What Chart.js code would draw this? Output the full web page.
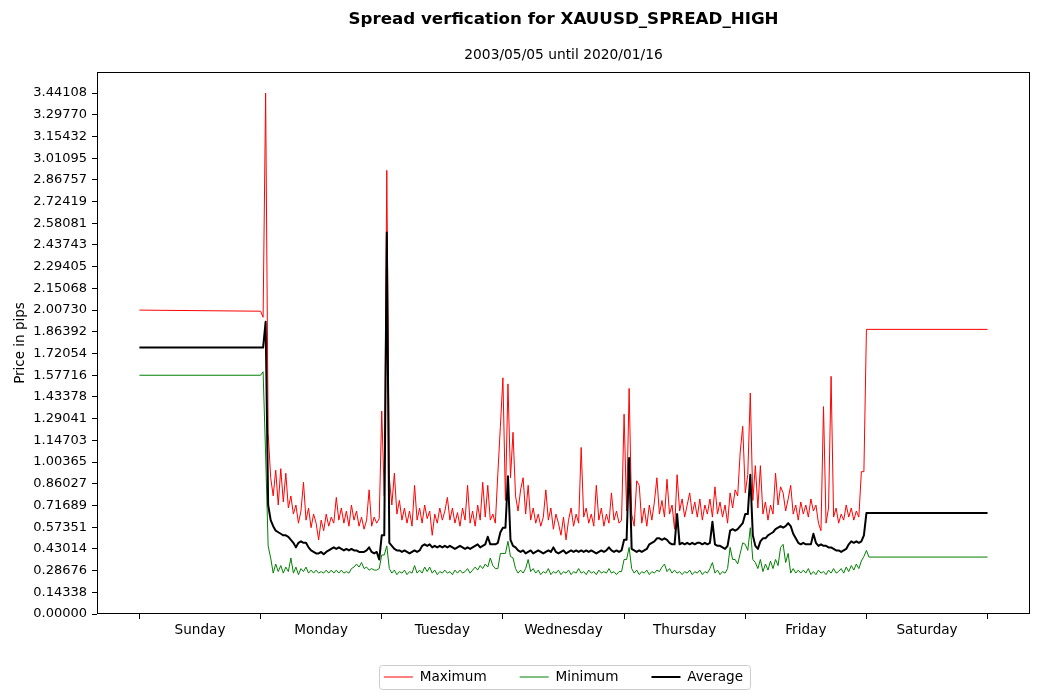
<!DOCTYPE html>
<html>
<head>
<meta charset="utf-8">
<script src="https://cdn.jsdelivr.net/npm/chart.js@4.4.1/dist/chart.umd.min.js"></script>
<style>
  html, body { margin: 0; padding: 0; background: #fff; }
  canvas { display: block; }
</style>
</head>
<body>
<canvas id="spreadChart" width="1039" height="700"></canvas>
<script>
const dayNames = ['Sunday', 'Monday', 'Tuesday', 'Wednesday', 'Thursday', 'Friday', 'Saturday']

const yTickLabels = [
    '0.00000', '0.14338', '0.28676', '0.43014', '0.57351', '0.71689', '0.86027', '1.00365',
    '1.14703', '1.29041', '1.43378', '1.57716', '1.72054', '1.86392', '2.00730', '2.15068',
    '2.29405', '2.43743', '2.58081', '2.72419', '2.86757', '3.01095', '3.15432', '3.29770', '3.44108'
]

// hours since Sunday 00:00 : sunday start, half-hourly mon..fri, saturday
const hours = [0]
for (let k = 0; k < 240; k++) {
    hours.push(24 + k * 0.5)
}
hours.push(144, 144.5, 168)

const maxSpread = [
    2.0073,
    // monday
    2.00, 1.96, 3.44108, 1.20, 0.90, 0.78, 0.95, 0.72, 0.96, 0.74, 0.93, 0.70,
    0.78, 0.66, 0.72, 0.60, 0.68, 0.87, 0.62, 0.70, 0.57, 0.66, 0.60, 0.49,
    0.62, 0.55, 0.66, 0.58, 0.64, 0.60, 0.77, 0.62, 0.70, 0.60, 0.68, 0.58,
    0.72, 0.62, 0.68, 0.58, 0.64, 0.56, 0.62, 0.82, 0.58, 0.64, 0.60, 0.63,
    // tuesday
    1.34, 0.78, 2.93, 0.90, 0.72, 0.93, 0.66, 0.75, 0.62, 0.70, 0.60, 0.68,
    0.58, 0.85, 0.62, 0.70, 0.60, 0.72, 0.63, 0.68, 0.52, 0.66, 0.60, 0.70,
    0.62, 0.68, 0.77, 0.62, 0.70, 0.60, 0.67, 0.58, 0.70, 0.62, 0.85, 0.60,
    0.68, 0.58, 0.72, 0.62, 0.87, 0.64, 0.85, 0.62, 0.66, 0.60, 0.93, 1.24,
    // wednesday
    1.56, 0.75, 1.52, 0.90, 1.20, 0.78, 0.68, 0.82, 0.90, 0.66, 0.85, 0.62,
    0.70, 0.60, 0.66, 0.58, 0.64, 0.82, 0.62, 0.70, 0.56, 0.66, 0.60, 0.52,
    0.64, 0.49, 0.62, 0.70, 0.58, 0.66, 0.60, 1.10, 0.64, 0.70, 0.60, 0.66,
    0.58, 0.85, 0.62, 0.70, 0.58, 0.66, 0.60, 0.80, 0.62, 0.68, 0.60, 0.62,
    // thursday
    1.32, 0.68, 1.49, 0.66, 0.58, 0.88, 0.85, 0.60, 0.70, 0.58, 0.72, 0.62,
    0.74, 0.90, 0.66, 0.75, 0.64, 0.89, 0.66, 0.72, 0.56, 0.92, 0.68, 0.76,
    0.64, 0.72, 0.80, 0.66, 0.74, 0.64, 0.76, 0.62, 0.72, 0.66, 0.76, 0.64,
    0.84, 0.66, 0.74, 0.64, 0.72, 0.60, 0.80, 0.70, 0.82, 0.78, 1.07, 1.24,
    // friday
    0.80, 0.92, 1.46, 0.75, 0.98, 0.70, 0.98, 0.66, 0.74, 0.62, 0.72, 0.66,
    0.93, 0.72, 0.84, 0.80, 0.68, 0.76, 0.85, 0.66, 0.72, 0.62, 0.74, 0.66,
    0.72, 0.64, 0.76, 0.68, 0.72, 0.60, 0.55, 1.37, 0.60, 0.70, 1.57, 0.64,
    0.70, 0.60, 0.66, 0.62, 0.72, 0.64, 0.70, 0.62, 0.68, 0.64, 0.94, 0.94,
    // saturday
    1.88, 1.88, 1.88
]

const minSpread = [
    1.577,
    // monday
    1.577, 1.60, 1.05, 0.45, 0.37, 0.27, 0.33, 0.28, 0.32, 0.27, 0.31, 0.28,
    0.37, 0.27, 0.31, 0.26, 0.30, 0.28, 0.31, 0.27, 0.29, 0.27, 0.29, 0.27,
    0.28, 0.27, 0.29, 0.27, 0.29, 0.27, 0.29, 0.27, 0.29, 0.27, 0.28, 0.27,
    0.30, 0.31, 0.33, 0.31, 0.34, 0.30, 0.31, 0.29, 0.30, 0.29, 0.29, 0.30,
    // tuesday
    0.39, 0.39, 0.45, 0.30, 0.27, 0.29, 0.26, 0.28, 0.27, 0.29, 0.26, 0.28,
    0.27, 0.32, 0.27, 0.29, 0.27, 0.31, 0.28, 0.31, 0.27, 0.29, 0.26, 0.28,
    0.27, 0.29, 0.27, 0.28, 0.26, 0.29, 0.27, 0.29, 0.27, 0.28, 0.30, 0.27,
    0.29, 0.31, 0.29, 0.32, 0.30, 0.33, 0.31, 0.37, 0.32, 0.30, 0.30, 0.40,
    // wednesday
    0.40, 0.40, 0.48, 0.38, 0.37, 0.30, 0.27, 0.29, 0.27, 0.30, 0.36, 0.28,
    0.30, 0.27, 0.29, 0.26, 0.28, 0.27, 0.30, 0.26, 0.28, 0.27, 0.29, 0.26,
    0.28, 0.27, 0.29, 0.26, 0.28, 0.27, 0.30, 0.27, 0.28, 0.26, 0.29, 0.27,
    0.28, 0.26, 0.29, 0.27, 0.28, 0.27, 0.30, 0.27, 0.28, 0.26, 0.28, 0.28,
    // thursday
    0.36, 0.36, 0.44, 0.30, 0.27, 0.29, 0.26, 0.28, 0.27, 0.29, 0.26, 0.28,
    0.27, 0.29, 0.28, 0.31, 0.33, 0.28, 0.30, 0.27, 0.29, 0.27, 0.28, 0.26,
    0.28, 0.27, 0.29, 0.26, 0.28, 0.27, 0.29, 0.26, 0.28, 0.27, 0.30, 0.34,
    0.27, 0.29, 0.26, 0.28, 0.27, 0.30, 0.44, 0.36, 0.36, 0.33, 0.40, 0.47,
    // friday
    0.46, 0.42, 0.57, 0.36, 0.34, 0.30, 0.36, 0.28, 0.33, 0.29, 0.35, 0.30,
    0.36, 0.32, 0.44, 0.46, 0.34, 0.40, 0.27, 0.30, 0.27, 0.29, 0.27, 0.29,
    0.27, 0.30, 0.26, 0.28, 0.26, 0.29, 0.27, 0.28, 0.26, 0.29, 0.27, 0.30,
    0.27, 0.28, 0.30, 0.27, 0.31, 0.28, 0.32, 0.29, 0.33, 0.30, 0.35, 0.38,
    // saturday
    0.42, 0.376, 0.376
]

const avgSpread = [
    1.76,
    // monday
    1.76, 1.76, 1.93, 0.72, 0.62, 0.58, 0.55, 0.54, 0.53, 0.52, 0.52, 0.51,
    0.49, 0.47, 0.44, 0.47, 0.48, 0.47, 0.47, 0.44, 0.42, 0.41, 0.40, 0.40,
    0.41, 0.395, 0.41, 0.42, 0.43, 0.44, 0.43, 0.44, 0.43, 0.42, 0.43, 0.42,
    0.43, 0.42, 0.42, 0.41, 0.41, 0.41, 0.42, 0.44, 0.41, 0.40, 0.41, 0.36,
    // tuesday
    0.52, 0.52, 2.52, 0.47, 0.45, 0.43, 0.42, 0.42, 0.41, 0.42, 0.41, 0.40,
    0.41, 0.42, 0.41, 0.42, 0.45, 0.46, 0.45, 0.46, 0.44, 0.45, 0.44, 0.45,
    0.44, 0.45, 0.44, 0.45, 0.44, 0.43, 0.44, 0.45, 0.44, 0.43, 0.44, 0.43,
    0.44, 0.45, 0.46, 0.44, 0.45, 0.46, 0.51, 0.46, 0.46, 0.46, 0.47, 0.54,
    // wednesday
    0.57, 0.57, 0.91, 0.49, 0.45, 0.44, 0.42, 0.41, 0.42, 0.40, 0.41, 0.42,
    0.40, 0.41, 0.42, 0.41, 0.40, 0.41, 0.42, 0.41, 0.44, 0.41, 0.40, 0.41,
    0.42, 0.40, 0.41, 0.42, 0.41, 0.42, 0.41, 0.42, 0.41, 0.42, 0.41, 0.42,
    0.41, 0.40, 0.41, 0.42, 0.41, 0.42, 0.44, 0.42, 0.41, 0.42, 0.41, 0.42,
    // thursday
    0.49, 0.49, 1.03, 0.43, 0.42, 0.41, 0.42, 0.41, 0.42, 0.43, 0.46, 0.47,
    0.48, 0.50, 0.50, 0.49, 0.50, 0.49, 0.47, 0.46, 0.46, 0.66, 0.46, 0.47,
    0.46, 0.47, 0.46, 0.47, 0.46, 0.47, 0.47, 0.46, 0.47, 0.46, 0.47, 0.61,
    0.46, 0.45, 0.45, 0.44, 0.43, 0.45, 0.55, 0.56, 0.55, 0.56, 0.58, 0.60,
    // friday
    0.66, 0.66, 0.92, 0.52, 0.45, 0.43, 0.48, 0.50, 0.50, 0.52, 0.53, 0.54,
    0.56, 0.57, 0.58, 0.57, 0.58, 0.60, 0.58, 0.53, 0.50, 0.47, 0.46, 0.47,
    0.46, 0.46, 0.46, 0.53, 0.47, 0.45, 0.46, 0.45, 0.45, 0.44, 0.44, 0.43,
    0.42, 0.42, 0.41, 0.42, 0.43, 0.46, 0.48, 0.47, 0.48, 0.47, 0.48, 0.52,
    // saturday
    0.667, 0.667, 0.667
]

Chart.defaults.font.family = "'DejaVu Sans', sans-serif"
Chart.defaults.color = '#000'

const toPoints = (values) => hours.map((h, i) => ({ x: h, y: values[i] }))

// day boundaries get a tick mark, half days carry the day name
const xTickHours = []
for (let d = 0; d <= 14; d++) {
    xTickHours.push(d * 12)
}

const axesFrame = {
    id: 'axesFrame',
    afterDatasetsDraw(chart) {
        const { ctx, chartArea } = chart
        ctx.save()
        ctx.strokeStyle = '#000'
        ctx.lineWidth = 1
        ctx.strokeRect(Math.round(chartArea.left) + 0.5, Math.round(chartArea.top) + 0.5,
            Math.round(chartArea.width) - 1, Math.round(chartArea.height) - 1)
        ctx.restore()
    }
}

const legendFrame = {
    id: 'legendFrame',
    afterDraw(chart) {
        const boxes = chart.legend.legendHitBoxes
        if (!boxes || !boxes.length) return
        const first = boxes[0]
        const last = boxes[boxes.length - 1]
        const x0 = Math.round(first.left - 5) + 0.5
        const x1 = Math.round(last.left + last.width + 7) + 0.5
        const y0 = Math.round(first.top - 5) + 0.5
        const y1 = Math.round(first.top + first.height + 5) + 0.5
        const ctx = chart.ctx
        ctx.save()
        ctx.strokeStyle = '#cccccc'
        ctx.lineWidth = 1
        ctx.beginPath()
        ctx.roundRect(x0, y0, x1 - x0, y1 - y0, 3)
        ctx.stroke()
        ctx.restore()
    }
}

const spreadChart = new Chart(document.getElementById('spreadChart'), {
    type: 'line',
    data: {
        datasets: [{
            label: 'Maximum',
            data: toPoints(maxSpread),
            borderColor: '#ff0000',
            backgroundColor: '#ff0000',
            borderWidth: 1,
            order: 3
        }, {
            label: 'Minimum',
            data: toPoints(minSpread),
            borderColor: '#008000',
            backgroundColor: '#008000',
            borderWidth: 1,
            order: 2
        }, {
            label: 'Average',
            data: toPoints(avgSpread),
            borderColor: '#000000',
            backgroundColor: '#000000',
            borderWidth: 2,
            order: 1
        }]
    },
    options: {
        responsive: false,
        animation: false,
        devicePixelRatio: 1,
        layout: { padding: { left: 0, right: 9, top: 0, bottom: 10.2 } },
        elements: {
            point: { radius: 0 },
            line: { tension: 0, borderJoinStyle: 'round', fill: false }
        },
        scales: {
            x: {
                type: 'linear',
                min: -8.4,
                max: 176.4,
                afterBuildTicks: (axis) => {
                    axis.ticks = xTickHours.map(v => ({ value: v }))
                },
                afterFit: (axis) => {
                    axis.height = 23.2
                },
                ticks: {
                    autoSkip: false,
                    maxRotation: 0,
                    minRotation: 0,
                    padding: 3,
                    font: { size: 13.6 },
                    callback: (value) => (value % 24 === 12 ? dayNames[(value - 12) / 24] : '')
                },
                grid: {
                    drawOnChartArea: false,
                    drawTicks: true,
                    tickLength: 5,
                    tickColor: (ctx) => (ctx.tick && ctx.tick.value % 24 === 0 ? '#000' : 'rgba(0,0,0,0)')
                },
                border: { display: false }
            },
            y: {
                min: 0,
                max: 3.58,
                afterBuildTicks: (axis) => {
                    axis.ticks = yTickLabels.map(s => ({ value: parseFloat(s) }))
                },
                afterFit: (axis) => {
                    axis.width = 97
                },
                ticks: {
                    padding: 5,
                    font: { size: 13 },
                    callback: (value, index) => yTickLabels[index]
                },
                grid: {
                    drawOnChartArea: false,
                    drawTicks: true,
                    tickLength: 5,
                    tickColor: '#000'
                },
                border: { display: false },
                title: {
                    display: true,
                    text: 'Price in pips',
                    font: { size: 13.5 },
                    padding: { top: 12, bottom: 0 }
                }
            }
        },
        plugins: {
            title: {
                display: true,
                text: 'Spread verfication for XAUUSD_SPREAD_HIGH',
                fullSize: false,
                font: { size: 16.7, weight: 'bold' },
                padding: { top: 9.5, bottom: 17.2 }
            },
            subtitle: {
                display: true,
                text: '2003/05/05 until 2020/01/16',
                fullSize: false,
                font: { size: 13.8 },
                padding: { top: 0, bottom: 8.7 }
            },
            legend: {
                position: 'bottom',
                fullSize: false,
                maxHeight: 52.6,
                labels: {
                    usePointStyle: true,
                    pointStyle: 'line',
                    pointStyleWidth: 29,
                    padding: 33,
                    font: { size: 13.6 },
                    sort: (a, b) => a.datasetIndex - b.datasetIndex
                }
            },
            tooltip: { enabled: false }
        }
    },
    plugins: [axesFrame, legendFrame]
})
</script>
</body>
</html>
